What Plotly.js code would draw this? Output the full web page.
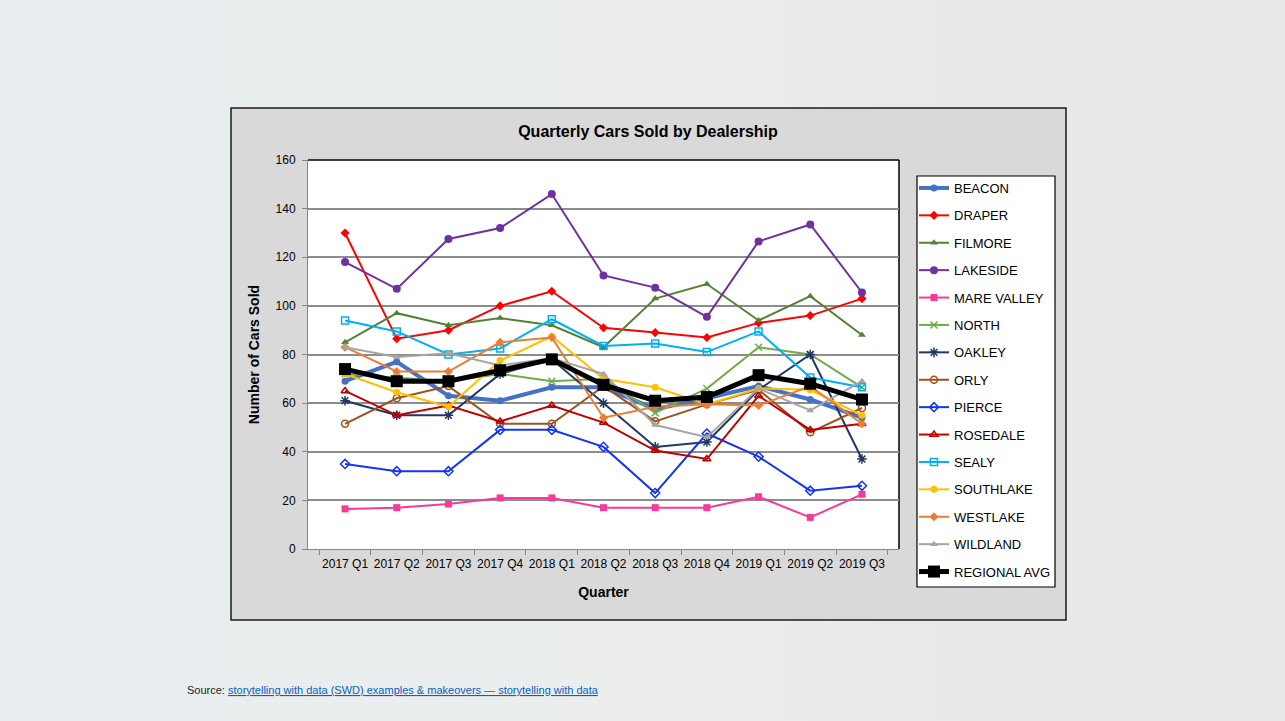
<!DOCTYPE html>
<html>
<head>
<meta charset="utf-8">
<script src="https://cdn.plot.ly/plotly-3.0.1.min.js"></script>
<style>
  html, body { margin: 0; padding: 0; }
  body {
    width: 1285px; height: 721px; overflow: hidden;
    background: linear-gradient(90deg, #e7edf0 0%, #ebeeed 45%, #eae9e8 75%, #e8e8e8 100%);
  }
  #chart { width: 1285px; height: 721px; }
</style>
</head>
<body>
<div id="chart"></div>
<script>
// ---- data ----
const quarters = ['2017 Q1','2017 Q2','2017 Q3','2017 Q4','2018 Q1','2018 Q2','2018 Q3','2018 Q4','2019 Q1','2019 Q2','2019 Q3'];

const beacon      = [69, 77, 63, 61, 66.5, 66.5, 57.5, 62, 67, 61.5, 54];
const draper      = [130, 86.5, 90, 100, 106, 91, 89, 87, 93, 96, 103];
const filmore     = [85, 97, 92, 95, 92, 83, 103, 109, 94, 104, 88];
const lakeside    = [118, 107, 127.5, 132, 146, 112.5, 107.5, 95.5, 126.5, 133.5, 105.5];
const mareValley  = [16.5, 17, 18.5, 21, 21, 17, 17, 17, 21.5, 13, 22.5];
const north       = [72, 70.5, 69, 72, 69, 70, 56, 66, 83, 80, 66.5];
const oakley      = [61, 55, 55, 72, 78, 60, 42, 44, 65.5, 80, 37];
const orly        = [51.5, 62, 67, 51.5, 51.5, 67, 52.5, 59.5, 65.5, 48, 58];
const pierce      = [35, 32, 32, 49, 49, 42, 23, 47.5, 38, 24, 26];
const rosedale    = [65, 55, 59, 52.5, 59, 52, 40.5, 37, 63, 49, 51.5];
const sealy       = [94, 89.5, 80, 82.5, 94.5, 83.5, 84.5, 81, 89.5, 70.5, 66.5];
const southlake   = [72, 64.5, 58.5, 77.5, 87.5, 70, 66.5, 59.5, 66, 65.5, 55];
const westlake    = [83, 73, 73, 85, 87, 54, 58.5, 59.5, 59, 67, 51.5];
const wildland    = [83, 79, 80.5, 75.5, 78.5, 72, 51, 46, 66, 57, 69];
const regionalAvg = [74, 69, 69, 73.5, 78, 67.5, 61, 62.5, 71.5, 68, 61.5];

const seriesNames = ['BEACON','DRAPER','FILMORE','LAKESIDE','MARE VALLEY','NORTH','OAKLEY','ORLY','PIERCE','ROSEDALE','SEALY','SOUTHLAKE','WESTLAKE','WILDLAND','REGIONAL AVG'];
const seriesValues = [beacon, draper, filmore, lakeside, mareValley, north, oakley, orly, pierce, rosedale, sealy, southlake, westlake, wildland, regionalAvg];

// ---- styling ----
const styles = {
  'BEACON':       {color:'#4472C4', width:4,   symbol:'circle',            size:7},
  'DRAPER':       {color:'#FF0000', width:2,   symbol:'diamond',           size:7},
  'FILMORE':      {color:'#548235', width:2,   symbol:'triangle-up',       size:7},
  'LAKESIDE':     {color:'#7030A0', width:2,   symbol:'circle',            size:8},
  'MARE VALLEY':  {color:'#F7399A', width:2,   symbol:'square',            size:7},
  'NORTH':        {color:'#70AD47', width:2,   symbol:'x-thin-open',       size:7},
  'OAKLEY':       {color:'#203864', width:2,   symbol:'asterisk-open',     size:8},
  'ORLY':         {color:'#A0521E', width:2,   symbol:'circle-open',       size:7},
  'PIERCE':       {color:'#1434F5', width:2,   symbol:'diamond-open',      size:7},
  'ROSEDALE':     {color:'#C00000', width:2,   symbol:'triangle-up-open',  size:7},
  'SEALY':        {color:'#00B0F0', width:2,   symbol:'square-open',       size:7},
  'SOUTHLAKE':    {color:'#FFC000', width:2,   symbol:'circle',            size:7},
  'WESTLAKE':     {color:'#ED7D31', width:2,   symbol:'diamond',           size:7},
  'WILDLAND':     {color:'#A5A5A5', width:2,   symbol:'triangle-up',       size:7},
  'REGIONAL AVG': {color:'#000000', width:5,   symbol:'square',            size:12}
};

const traces = seriesNames.map((name, i) => {
  const s = styles[name];
  return {
    type: 'scatter', mode: 'lines+markers', name: name,
    x: quarters, y: seriesValues[i],
    legendgroup: 'g' + i,
    line: {color: s.color, width: s.width},
    marker: {color: s.color, symbol: s.symbol, size: s.size,
             line: {color: s.color, width: (s.symbol.indexOf('open') >= 0 ? 1.5 : 0)}},
    hoverinfo: 'x+y+name'
  };
});

// ---- pixel geometry helpers ----
const L = 308, R = 899, T = 160, B = 549;
const W = R - L, H = B - T;
const px = p => (p - L) / W;
const py = p => 1 - (p - T) / H;

const FONT = 'Liberation Sans, Arial, sans-serif';

const layout = {
  width: 1285, height: 721,
  margin: {l: L, r: 1285 - R, t: T, b: 721 - B, pad: 0},
  paper_bgcolor: 'rgba(0,0,0,0)',
  plot_bgcolor: 'rgba(0,0,0,0)',
  font: {family: FONT, color: '#000000', size: 12},
  title: {
    text: '<b>Quarterly Cars Sold by Dealership</b>',
    font: {family: FONT, size: 16, color: '#000'},
    xref: 'container', yref: 'container',
    x: 648 / 1285, y: 1 - 131 / 721, xanchor: 'center', yanchor: 'middle'
  },
  xaxis: {
    type: 'category',
    tickson: 'boundaries',
    tickangle: 0,
    ticks: 'outside', ticklen: 5, tickcolor: '#868686', tickwidth: 1,
    showline: true, linecolor: '#868686', linewidth: 1,
    showgrid: false, zeroline: false,
    tickfont: {family: FONT, size: 12, color: '#000'},
    ticklabelstandoff: 4,
    title: {text: '<b>Quarter</b>', font: {family: FONT, size: 14, color: '#000'}, standoff: 16},
    automargin: false, fixedrange: true
  },
  yaxis: {
    range: [0, 160], dtick: 20, tick0: 0,
    ticks: 'outside', ticklen: 5, tickcolor: '#868686', tickwidth: 1,
    showline: true, linecolor: '#868686', linewidth: 1,
    showgrid: true, gridcolor: '#8C8C8C', gridwidth: 1.5,
    zeroline: false,
    tickfont: {family: FONT, size: 12, color: '#000'},
    ticklabelstandoff: 4,
    title: {text: '<b>Number of Cars Sold</b>', font: {family: FONT, size: 14, color: '#000'}, standoff: 12},
    automargin: false, fixedrange: true
  },
  showlegend: true,
  legend: {
    x: px(914), y: py(173), xanchor: 'left', yanchor: 'top',
    xref: 'paper', yref: 'paper',
    maxheight: 600,
    bgcolor: 'rgba(0,0,0,0)', borderwidth: 0,
    font: {family: FONT, size: 13, color: '#000'},
    traceorder: 'grouped', tracegroupgap: 7.5,
    itemwidth: 30
  },
  shapes: [
    // outer grey chart box
    {type: 'rect', xref: 'paper', yref: 'paper', layer: 'below',
     x0: px(231), x1: px(1066), y0: py(620), y1: py(108),
     fillcolor: '#D9D9D9', line: {color: '#1a1a1a', width: 1.5}},
    // white plot area
    {type: 'rect', xref: 'paper', yref: 'paper', layer: 'below',
     x0: 0, x1: 1, y0: 0, y1: 1,
     fillcolor: '#FFFFFF', line: {width: 0}},
    // legend box
    {type: 'rect', xref: 'paper', yref: 'paper', layer: 'below',
     x0: px(917), x1: px(1055), y0: py(587), y1: py(176),
     fillcolor: '#FFFFFF', line: {color: '#000000', width: 1.2}},
    // top & right plot border
    {type: 'line', xref: 'paper', yref: 'paper', layer: 'below',
     x0: 0, x1: 1, y0: 1, y1: 1, line: {color: '#000', width: 1.5}},
    {type: 'line', xref: 'paper', yref: 'paper', layer: 'below',
     x0: 1, x1: 1, y0: 0, y1: 1, line: {color: '#000', width: 1.5}}
  ],
  annotations: [
    {xref: 'paper', yref: 'paper', x: px(185), y: py(690), xanchor: 'left', yanchor: 'middle',
     showarrow: false, align: 'left',
     font: {family: FONT, size: 11, color: '#222222'},
     text: 'Source: <span style="color:#0563C1"><u>storytelling with data (SWD) examples &amp; makeovers — storytelling with data</u></span>'}
  ]
};

Plotly.newPlot('chart', traces, layout, {displayModeBar: false, staticPlot: false, responsive: false});
</script>
</body>
</html>
